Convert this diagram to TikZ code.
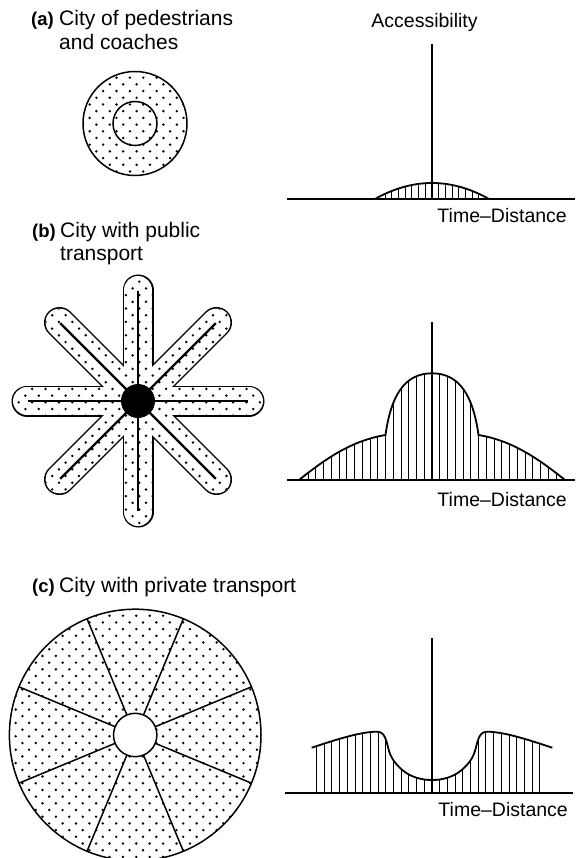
\documentclass[tikz,border=0pt]{standalone}
\usepackage{fontspec}
\setmainfont{Liberation Sans}
\usetikzlibrary{calc}
\newcommand\dotfield[4]{%
  \foreach \i in {0,...,#4}{%
    \foreach \j in {0,...,#3}{%
      \fill ({#1+\j*13.4+mod(\i,2)*6.7},{#2+\i*6.7}) circle[radius=1.35];}}}
\begin{document}
\begin{tikzpicture}[x=1pt,y=-1pt,
  lbl/.style={font=\fontsize{18.5}{22}\selectfont\bfseries, inner sep=0pt, anchor=base west},
  captxt/.style={font=\fontsize{21}{25}\selectfont, inner sep=0pt, anchor=base west},
  axlbl/.style={font=\fontsize{19.5}{24}\selectfont, inner sep=0pt},
  axisline/.style={line width=1.6pt},
  curveline/.style={line width=1.8pt},
  hatchline/.style={line width=1pt},
  rim/.style={line width=1.5pt}]
\useasboundingbox (0,0) rectangle (578,858);

% ---------------- (a) ----------------
\node[lbl] (la) at (31,26) {(a)};
\node[captxt] (ca1) at (59,26) {City of pedestrians};
\node[captxt] (ca2) at (59,50) {and coaches};
\coordinate (cA) at (135,123.5);
\begin{scope}
  \clip (cA) circle[radius=52];
  \dotfield{83}{71}{8}{16}
\end{scope}
\draw[rim] (cA) circle[radius=52];
\draw[rim] (cA) circle[radius=22];

% graph (a)
\node[axlbl, anchor=base] (acc) at (424.5,28) {Accessibility};
\coordinate (aTop) at (432,44);
\coordinate (aBot) at (432,199);
\coordinate (aL) at (287,199);
\coordinate (aR) at (575,199);
\begin{scope}
  \clip plot[domain=-57:57, samples=40] ({432+\x},{199-16*(1-(\x/57)^2)}) -- cycle;
  \foreach \k in {-8,...,8} \draw[hatchline] ({432+\k*6.7},199) -- ({432+\k*6.7},170);
\end{scope}
\draw[curveline] plot[domain=-57:57, samples=40] ({432+\x},{199-16*(1-(\x/57)^2)});
\draw[axisline] (aL) -- (aR);
\draw[axisline] (aTop) -- (aBot);
\node[axlbl, anchor=base east] (tda) at (567,223) {Time–Distance};

% ---------------- (b) ----------------
\node[lbl] (lb) at (32,238) {(b)};
\node[captxt] (cb1) at (60,238) {City with public};
\node[captxt] (cb2) at (60,261) {transport};
\coordinate (cB) at (138,401);
\foreach \a in {0,45,...,315} \draw[line width=31pt, line cap=round] (cB) -- ++(\a:111);
\foreach \a in {0,45,...,315} \draw[white, line width=28pt, line cap=round] (cB) -- ++(\a:111);
\begin{scope}
  \clip \foreach \a in {0,45,...,315} { (cB) ++(\a-90:14) -- ++(\a:111) arc[start angle=\a-90, delta angle=180, radius=14] -- ++(\a+180:111) arc[start angle=\a+90, delta angle=180, radius=14] -- cycle };
  \dotfield{12}{275}{19}{38}
\end{scope}
\foreach \a in {0,45,...,315} \draw[line width=2.4pt] (cB) -- ++(\a:110);
\fill (cB) circle[radius=17];

% graph (b)
\def\curveB{(299,480) .. controls (330,455) and (355,440) .. (385.5,435) .. controls (391,395) and (405,373.3) .. (432,373.3) .. controls (459,373.3) and (473,395) .. (478.5,435) .. controls (509,440) and (534,455) .. (565,480)}
\coordinate (bTop) at (432,322);
\coordinate (bBot) at (432,480);
\coordinate (bL) at (287,480);
\coordinate (bR) at (575,480);
\begin{scope}
  \clip \curveB -- cycle;
  \foreach \k in {-17,...,17} \draw[hatchline] ({432+\k*7.75},480) -- ({432+\k*7.75},360);
\end{scope}
\draw[curveline] \curveB;
\draw[axisline] (bL) -- (bR);
\draw[axisline] (bTop) -- (bBot);
\node[axlbl, anchor=base east] (tdb) at (567,506) {Time–Distance};

% ---------------- (c) ----------------
\node[lbl] (lc) at (32,592) {(c)};
\node[captxt] (cc1) at (59,592) {City with private transport};
\coordinate (cC) at (135.2,735);
\begin{scope}
  \clip (cC) circle[radius=125.8];
  \dotfield{9}{609}{19}{38}
\end{scope}
\fill[white] (cC) circle[radius=21.7];
\foreach \a in {22.5,67.5,...,337.5} \draw[rim] ($(cC)+(\a:21.7)$) -- ($(cC)+(\a:125.8)$);
\draw[rim] (cC) circle[radius=125.8];
\draw[rim] (cC) circle[radius=21.7];

% graph (c)
\def\curveC{(311.7,747.7) .. controls (335,740) and (360,731.7) .. (377,731.7) .. controls (388,731.7) and (386,748) .. (392,758) .. controls (398,768) and (410,780) .. (432,780) .. controls (454,780) and (466,768) .. (472,758) .. controls (478,748) and (476,731.7) .. (487,731.7) .. controls (504,731.7) and (529,740) .. (552.3,747.7)}
\coordinate (cTop) at (432,638);
\coordinate (cBot) at (432,792.7);
\coordinate (cL) at (285,792.7);
\coordinate (cR) at (573,792.7);
\begin{scope}
  \clip \curveC -- (552.3,792.7) -- (311.7,792.7) -- cycle;
  \foreach \k in {-15,...,14} \draw[hatchline] ({432+\k*7.7},792.7) -- ({432+\k*7.7},720);
\end{scope}
\draw[curveline] \curveC;
\draw[axisline] (cL) -- (cR);
\draw[axisline] (cTop) -- (cBot);
\node[axlbl, anchor=base east] (tdc) at (568,816.7) {Time–Distance};
\end{tikzpicture}
\end{document}
